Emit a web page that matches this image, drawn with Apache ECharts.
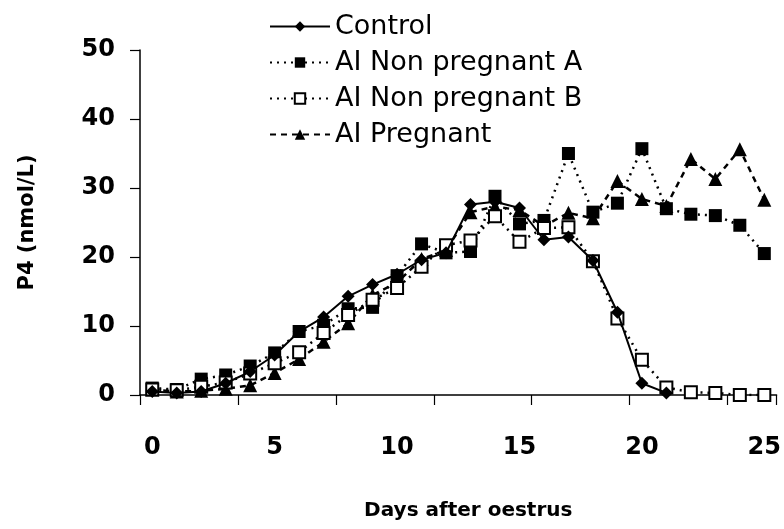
<!DOCTYPE html>
<html>
<head>
<meta charset="utf-8">
<script src="https://cdn.jsdelivr.net/npm/echarts@6/dist/echarts.min.js"></script>
<style>html,body{margin:0;padding:0;background:#fff;}#c{width:784px;height:529px;}</style>
</head>
<body>
<div id="c"></div>
<script>
var days = ['0','1','2','3','4','5','6','7','8','9','10','11','12','13','14','15','16','17','18','19','20','21','22','23','24','25'];
var control = [0.5,0.3,0.5,1.7,3.4,5.8,9.2,11.3,14.3,16.0,17.5,19.6,20.6,27.6,28.0,27.1,22.5,22.9,19.5,12.0,1.7,0.3];
var aiNonPregA = [1.0,0.8,2.3,2.9,4.2,6.1,9.2,10.1,12.5,12.7,17.3,21.9,20.6,20.8,28.8,24.8,25.3,35.0,26.5,27.8,35.7,27.0,26.2,26.0,24.6,20.5];
var aiNonPregB = [0.8,0.7,1.2,1.8,3.1,4.6,6.2,9.0,11.6,13.8,15.5,18.6,21.7,22.4,25.9,22.2,24.2,24.3,19.4,11.1,5.1,1.1,0.4,0.3,0.0,0.0];
var aiPreg = [0.8,0.5,0.6,0.9,1.4,3.2,5.2,7.7,10.4,14.5,16.3,19.7,21.0,26.5,27.3,26.8,24.5,26.4,25.6,31.0,28.4,27.4,34.2,31.3,35.6,28.3];
var yTicks = [0,10,20,30,40,50];

var FONT = "'DejaVu Sans', sans-serif";
var chart = echarts.init(document.getElementById('c'));
chart.setOption({
  backgroundColor: '#fff',
  animation: false,
  legend: {
    orient: 'vertical',
    left: 264,
    top: 8,
    itemWidth: 60,
    itemHeight: 13,
    itemGap: 9,
    textStyle: {fontSize: 27, fontFamily: FONT, color: '#000'},
    data: ['Control','AI Non pregnant A','AI Non pregnant B','AI Pregnant']
  },
  grid: {left: 140, right: 7, top: 50, bottom: 134},
  xAxis: {
    type: 'category',
    data: days,
    boundaryGap: true,
    name: 'Days after oestrus',
    nameLocation: 'middle',
    nameGap: 106,
    nameTextStyle: {fontSize: 20, fontWeight: 'bold', fontFamily: FONT, color: '#000', padding: [0, 0, 0, 20]},
    axisLine: {lineStyle: {color: '#000', width: 1.5}},
    axisTick: {show: true, inside: false, length: 10, interval: 3, lineStyle: {color: '#000', width: 1.2}},
    axisLabel: {
      interval: function (idx) { return idx % 5 === 0; },
      margin: 41,
      fontSize: 24, fontWeight: 'bold', fontFamily: FONT, color: '#000'
    },
    splitLine: {show: false}
  },
  yAxis: {
    type: 'value',
    min: yTicks[0],
    max: yTicks[yTicks.length - 1],
    interval: 10,
    name: 'P4 (nmol/L)',
    nameLocation: 'middle',
    nameRotate: 90,
    nameGap: 102,
    nameTextStyle: {fontSize: 21, fontWeight: 'bold', fontFamily: FONT, color: '#000'},
    axisLine: {show: true, lineStyle: {color: '#000', width: 1.5}},
    axisTick: {show: true, inside: false, length: 10, lineStyle: {color: '#000', width: 1.2}},
    axisLabel: {margin: 25, fontSize: 24, fontWeight: 'bold', fontFamily: FONT, color: '#000'},
    splitLine: {show: false}
  },
  series: [
    {
      name: 'Control', type: 'line', data: control,
      symbol: 'diamond', symbolSize: 13,
      itemStyle: {color: '#000'},
      lineStyle: {color: '#000', width: 2, type: 'solid'},
      z: 5
    },
    {
      name: 'AI Non pregnant A', type: 'line', data: aiNonPregA,
      symbol: 'rect', symbolSize: 13,
      itemStyle: {color: '#000'},
      lineStyle: {color: '#000', width: 2.5, type: [2, 5]},
      z: 3
    },
    {
      name: 'AI Non pregnant B', type: 'line', data: aiNonPregB,
      symbol: 'rect', symbolSize: 12,
      itemStyle: {color: '#fff', borderColor: '#000', borderWidth: 2},
      lineStyle: {color: '#000', width: 2.5, type: [2, 5]},
      z: 4
    },
    {
      name: 'AI Pregnant', type: 'line', data: aiPreg,
      symbol: 'triangle', symbolSize: 14,
      itemStyle: {color: '#000'},
      lineStyle: {color: '#000', width: 2.5, type: [6, 5]},
      z: 2
    }
  ]
});
</script>
</body>
</html>
